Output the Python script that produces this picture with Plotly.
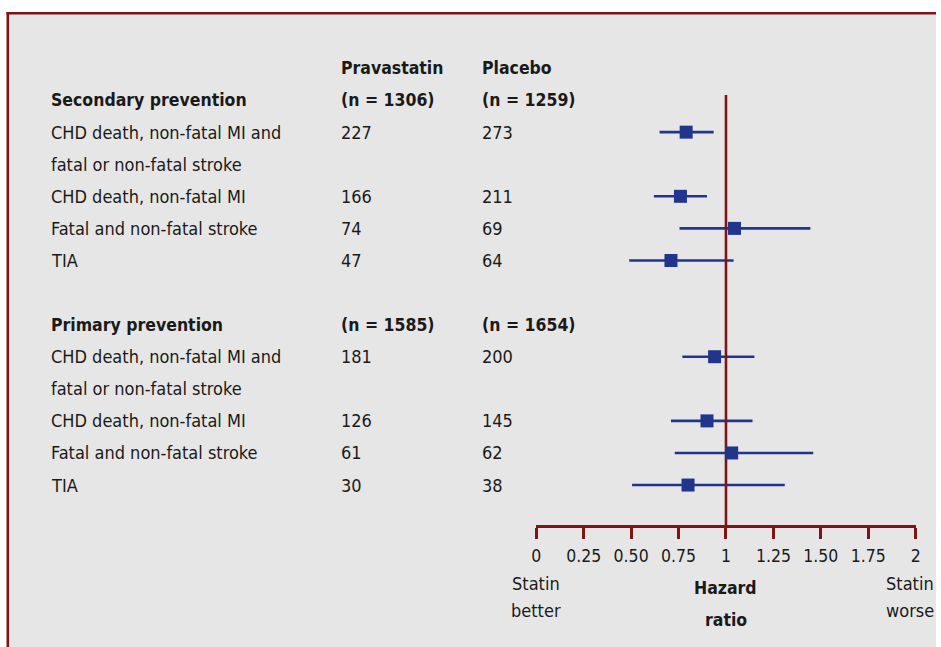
import plotly.graph_objects as go

# ---------------- data ----------------
outcomes = [
    "CHD death, non-fatal MI and<br>fatal or non-fatal stroke",
    "CHD death, non-fatal MI",
    "Fatal and non-fatal stroke",
    "TIA",
]
groups = ["Secondary prevention", "Primary prevention"]
n_prava = ["(n = 1306)", "(n = 1585)"]
n_placebo = ["(n = 1259)", "(n = 1654)"]

sec_prava = [227, 166, 74, 47]
sec_placebo = [273, 211, 69, 64]
sec_hr = [0.79, 0.76, 1.045, 0.71]
sec_lo = [0.65, 0.62, 0.755, 0.49]
sec_hi = [0.935, 0.90, 1.445, 1.04]

pri_prava = [181, 126, 61, 30]
pri_placebo = [200, 145, 62, 38]
pri_hr = [0.94, 0.90, 1.03, 0.80]
pri_lo = [0.77, 0.71, 0.73, 0.505]
pri_hi = [1.15, 1.14, 1.46, 1.31]

tick_vals = [0, 0.25, 0.5, 0.75, 1, 1.25, 1.5, 1.75, 2]
tick_text = ["0", "0.25", "0.50", "0.75", "1", "1.25", "1.50", "1.75", "2"]

# ---------------- styling / layout ----------------
FW, FH = 941, 647
# horizontal calibration of the photographed page
SX, SX_OFF = 0.987, 6.0
FONT = "DejaVu Sans Condensed, Liberation Sans Narrow, Arial Narrow, sans-serif"
FS = 18
FSB = 17.5
RED = "#7f1416"
BLUE = "#22358c"
TXT = "#1a1a1a"


def px(x):
    return ((x - SX_OFF) / SX) / FW


def py(y):
    return (FH - y) / FH


X_LABEL = px(50)
X_PRAVA = px(339)
X_PLAC = px(480)

# row index -> pixel: y = Y0 + LH * idx
LH = 32.08
Y0 = 68
AX_BOTTOM = 525
y_range_top = (0 - Y0) / LH
y_range_bot = (AX_BOTTOM - Y0) / LH

prava_all = [sec_prava, pri_prava]
plac_all = [sec_placebo, pri_placebo]
hr_all = sec_hr + pri_hr
lo_all = sec_lo + pri_lo
hi_all = sec_hi + pri_hi

annotations = []


def add_text(text, x, y, bold=False, xref="paper", yref="y", xanchor="left", size=None):
    t = f"<b>{text}</b>" if bold else text
    if size is None:
        size = FSB if bold else FS
    annotations.append(dict(text=t, x=x, y=y, xref=xref, yref=yref, xanchor=xanchor,
                            yanchor="middle", showarrow=False,
                            font=dict(family=FONT, size=size, color=TXT)))


add_text("Pravastatin", X_PRAVA, 0, bold=True)
add_text("Placebo", X_PLAC, 0, bold=True)

row_y = []
line = 1
for g in range(2):
    add_text(groups[g], X_LABEL, line, bold=True)
    add_text(n_prava[g], X_PRAVA, line, bold=True)
    add_text(n_placebo[g], X_PLAC, line, bold=True)
    line += 1
    for i, o in enumerate(outcomes):
        row_y.append(line)
        parts = o.split("<br>")
        for k, p in enumerate(parts):
            add_text(p, X_LABEL, line + k)
        add_text(str(prava_all[g][i]), X_PRAVA, line)
        add_text(str(plac_all[g][i]), X_PLAC, line)
        line += len(parts)
    line += 1

# bottom captions
for w, yy in zip(["Statin", "better"], [583, 610]):
    add_text(w, 0, py(yy), xref="x", yref="paper", xanchor="center")
for w, yy in zip(["Statin", "worse"], [583, 610]):
    add_text(w, 1.0, py(yy), xref="paper", yref="paper", xanchor="right")
for w, yy in zip(["Hazard", "ratio"], [588, 620]):
    add_text(w, 1, py(yy), bold=True, xref="x", yref="paper", xanchor="center")

fig = go.Figure()

# confidence intervals
fig.add_trace(go.Scatter(
    x=hr_all, y=row_y, mode="markers",
    marker=dict(size=1, color="rgba(0,0,0,0)"),
    error_x=dict(type="data", symmetric=False,
                 array=[h - m for h, m in zip(hi_all, hr_all)],
                 arrayminus=[m - l for m, l in zip(hr_all, lo_all)],
                 color=BLUE, thickness=2.6, width=0),
    hoverinfo="skip", showlegend=False))

# reference line at HR = 1
y_line_top = (95 - Y0) / LH
fig.add_trace(go.Scatter(x=[1, 1], y=[y_line_top, y_range_bot], mode="lines",
                         line=dict(color=RED, width=2.6), cliponaxis=False,
                         hoverinfo="skip", showlegend=False))

# point estimates
fig.add_trace(go.Scatter(x=hr_all, y=row_y, mode="markers",
                         marker=dict(symbol="square", size=13, color=BLUE),
                         cliponaxis=False, showlegend=False))

shapes = [
    dict(type="rect", xref="paper", yref="paper", x0=px(8.5), x1=1, y0=0, y1=py(12),
         fillcolor="#e6e6e6", line=dict(width=0), layer="below"),
    dict(type="line", xref="paper", yref="paper", x0=px(7.5), x1=1, y0=py(13.2), y1=py(13.2),
         line=dict(color=RED, width=2.6), layer="below"),
    dict(type="line", xref="paper", yref="paper", x0=px(8.8), x1=px(8.8), y0=0, y1=py(11.9),
         line=dict(color=RED, width=2.6), layer="below"),
]

fig.update_layout(
    width=FW, height=FH,
    margin=dict(l=0, r=0, t=0, b=0),
    paper_bgcolor="white",
    plot_bgcolor="rgba(0,0,0,0)",
    shapes=shapes,
    annotations=annotations,
    showlegend=False,
    hovermode=False,
    xaxis=dict(domain=[px(536), px(914.5)], range=[0, 2], showgrid=False, zeroline=False,
               showline=True, linecolor=RED, linewidth=2.5,
               ticks="outside", ticklen=11, tickwidth=2.5, tickcolor=RED,
               ticklabelstandoff=2,
               tickvals=tick_vals, ticktext=tick_text,
               tickfont=dict(family=FONT, size=17.5, color=TXT)),
    yaxis=dict(domain=[py(AX_BOTTOM), 1], range=[y_range_bot, y_range_top], showgrid=False,
               zeroline=False, showline=False, showticklabels=False, ticks=""),
)

fig.write_html("out.html", config={"displayModeBar": False},
               post_script="document.body.style.margin='0px';")
